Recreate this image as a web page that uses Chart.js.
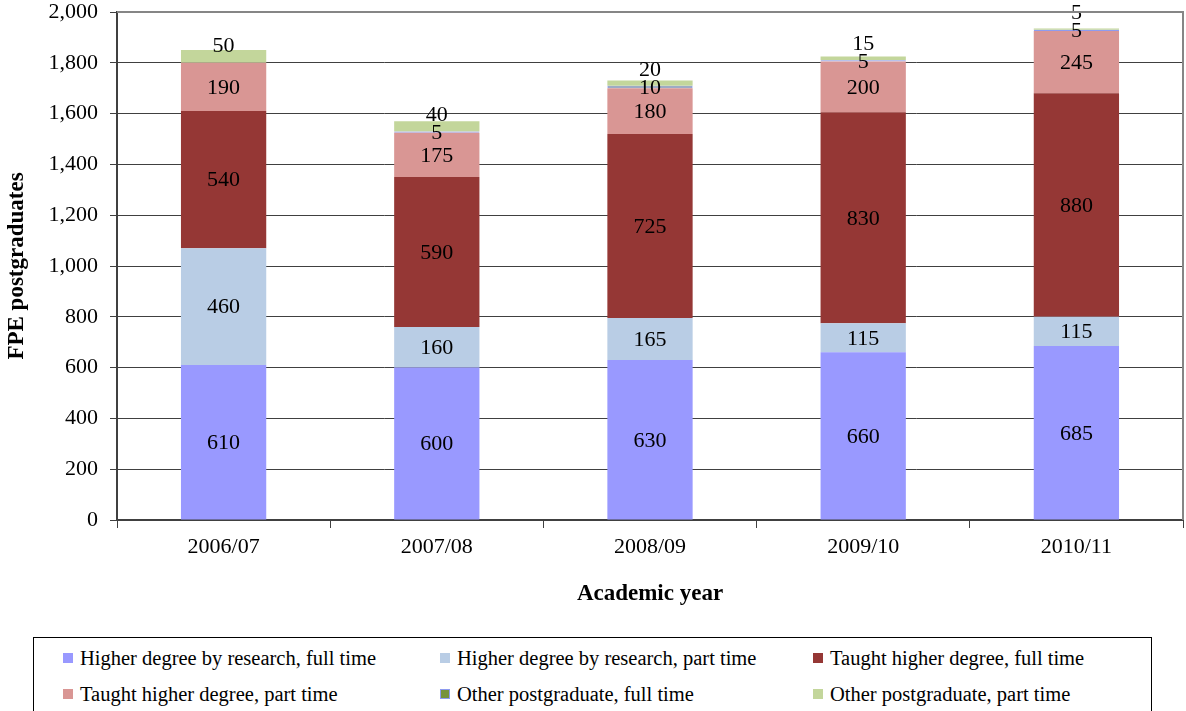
<!DOCTYPE html>
<html>
<head>
<meta charset="utf-8">
<title>FPE postgraduates by academic year</title>
<script src="https://cdn.jsdelivr.net/npm/chart.js@4"></script>
<style>
  html, body { margin: 0; padding: 0; background: #fff; }
  #wrap { position: relative; width: 1186px; height: 711px; overflow: hidden; font-family: "Liberation Serif", "Times New Roman", serif; }
  #chart { position: absolute; left: 0; top: 0; }
  #legend {
    position: absolute; left: 33px; top: 637px; width: 1119px; height: 90px;
    border: 1px solid #000; box-sizing: border-box;
    padding: 2px 0 0 29px;
    display: grid; grid-template-columns: 377px 373px auto; grid-auto-rows: 36px; align-items: center;
    font-size: 20.5px; color: #000;
  }
  .item { display: flex; align-items: center; white-space: nowrap; }
  .sw { width: 10px; height: 10px; margin-right: 7px; box-sizing: border-box; }
</style>
</head>
<body>
<div id="wrap">
  <canvas id="chart" width="1186" height="630"></canvas>
  <div id="legend"></div>
</div>
<script>
// Academic years on the x axis
const years = ['2006/07', '2007/08', '2008/09', '2009/10', '2010/11'];

// Full-person-equivalent postgraduates, per study type
const researchFullTime = [610, 600, 630, 660, 685];
const researchPartTime = [460, 160, 165, 115, 115];
const taughtFullTime   = [540, 590, 725, 830, 880];
const taughtPartTime   = [190, 175, 180, 200, 245];
const otherFullTime    = [0, 5, 10, 5, 5];
const otherPartTime    = [50, 40, 20, 15, 5];

// Series names, in stacking order
const seriesNames = [
  'Higher degree by research, full time',
  'Higher degree by research, part time',
  'Taught higher degree, full time',
  'Taught higher degree, part time',
  'Other postgraduate, full time',
  'Other postgraduate, part time'
];

// Value axis ticks
const yTicks = [0, 200, 400, 600, 800, 1000, 1200, 1400, 1600, 1800, 2000];

const seriesValues = [researchFullTime, researchPartTime, taughtFullTime, taughtPartTime, otherFullTime, otherPartTime];
const fills   = ['#9999FF', '#B9CDE5', '#953735', '#D99694', '#77933C', '#C3D69B'];
const borders = [null, null, null, null, '#8E9BEF', null];

const SERIF = '"Liberation Serif", "Times New Roman", serif';

// Value labels centred in each segment; the top segment's label is nudged
// upward when it would collide with the label beneath it.
const segmentLabels = {
  id: 'segmentLabels',
  afterDatasetsDraw(chart) {
    const ctx = chart.ctx;
    ctx.save();
    ctx.font = '22px ' + SERIF;
    ctx.fillStyle = '#000';
    ctx.textAlign = 'center';
    ctx.textBaseline = 'middle';
    const n = chart.data.datasets.length;
    chart.data.labels.forEach((_, i) => {
      let prevY = Infinity;
      for (let d = 0; d < n; d++) {
        const v = chart.data.datasets[d].data[i];
        const bar = chart.getDatasetMeta(d).data[i];
        const p = bar.getProps(['x', 'y', 'base'], true);
        let y = (p.y + p.base) / 2;
        if (d === n - 1 && y > prevY - 18) y = prevY - 18;
        if (v) ctx.fillText(String(v), p.x, y + 1);
        prevY = y;
      }
    });
    ctx.restore();
  }
};

// Grey frame along the top and right of the plot area
const plotFrame = {
  id: 'plotFrame',
  afterDatasetsDraw(chart) {
    const { ctx, chartArea: a } = chart;
    ctx.save();
    ctx.strokeStyle = '#868686';
    ctx.lineWidth = 2;
    ctx.beginPath();
    ctx.moveTo(a.left, a.top);
    ctx.lineTo(a.right, a.top);
    ctx.lineTo(a.right, a.bottom);
    ctx.stroke();
    ctx.restore();
  }
};

const datasets = seriesNames.map((name, k) => ({
  label: name,
  data: seriesValues[k],
  backgroundColor: fills[k],
  borderColor: borders[k] || fills[k],
  borderWidth: borders[k] ? 1 : 0,
  borderSkipped: false
}));

const chart = new Chart(document.getElementById('chart'), {
  type: 'bar',
  data: { labels: years, datasets },
  options: {
    responsive: false,
    animation: false,
    devicePixelRatio: 1,
    layout: { padding: { top: 0, right: 3, left: 0, bottom: 0 } },
    datasets: { bar: { categoryPercentage: 1, barPercentage: 0.4 } },
    plugins: { legend: { display: false }, tooltip: { enabled: false } },
    scales: {
      x: {
        stacked: true,
        grid: { offset: true, drawOnChartArea: false, drawTicks: true, tickLength: 8, color: '#404040', lineWidth: 1 },
        border: { color: '#404040', width: 2 },
        ticks: { color: '#000', font: { family: SERIF, size: 22 }, padding: 6 },
        title: { display: true, text: 'Academic year', color: '#000', font: { family: SERIF, size: 23, weight: 'bold' }, padding: { top: 0, bottom: 22 } },
        afterFit(scale) { scale.height = 110; }
      },
      y: {
        stacked: true,
        min: 0,
        max: 2000,
        afterBuildTicks(scale) { scale.ticks = yTicks.map(v => ({ value: v })); },
        grid: {
          color: c => (c.tick && c.tick.value === 2000) ? 'rgba(0,0,0,0)' : '#404040',
          tickColor: '#404040',
          lineWidth: 1,
          tickLength: 7
        },
        border: { color: '#404040', width: 2 },
        ticks: {
          color: '#000',
          font: { family: SERIF, size: 22 },
          padding: 12,
          callback: v => Number(v).toLocaleString('en-US')
        },
        title: { display: true, text: 'FPE postgraduates', color: '#000', font: { family: SERIF, size: 23, weight: 'bold' }, padding: { top: 3, bottom: 0 } },
        afterFit(scale) {
          scale.width = 117;
          scale.paddingTop = 12;
          scale.paddingBottom = 0;
        }
      }
    }
  },
  plugins: [segmentLabels, plotFrame]
});

// Legend in three columns, built from the chart's own datasets
const legend = document.getElementById('legend');
chart.data.datasets.forEach(ds => {
  const item = document.createElement('div');
  item.className = 'item';
  const sw = document.createElement('span');
  sw.className = 'sw';
  sw.style.background = ds.backgroundColor;
  if (ds.borderWidth) sw.style.border = '1px solid ' + ds.borderColor;
  const txt = document.createElement('span');
  txt.textContent = ds.label;
  item.appendChild(sw);
  item.appendChild(txt);
  legend.appendChild(item);
});
</script>
</body>
</html>
